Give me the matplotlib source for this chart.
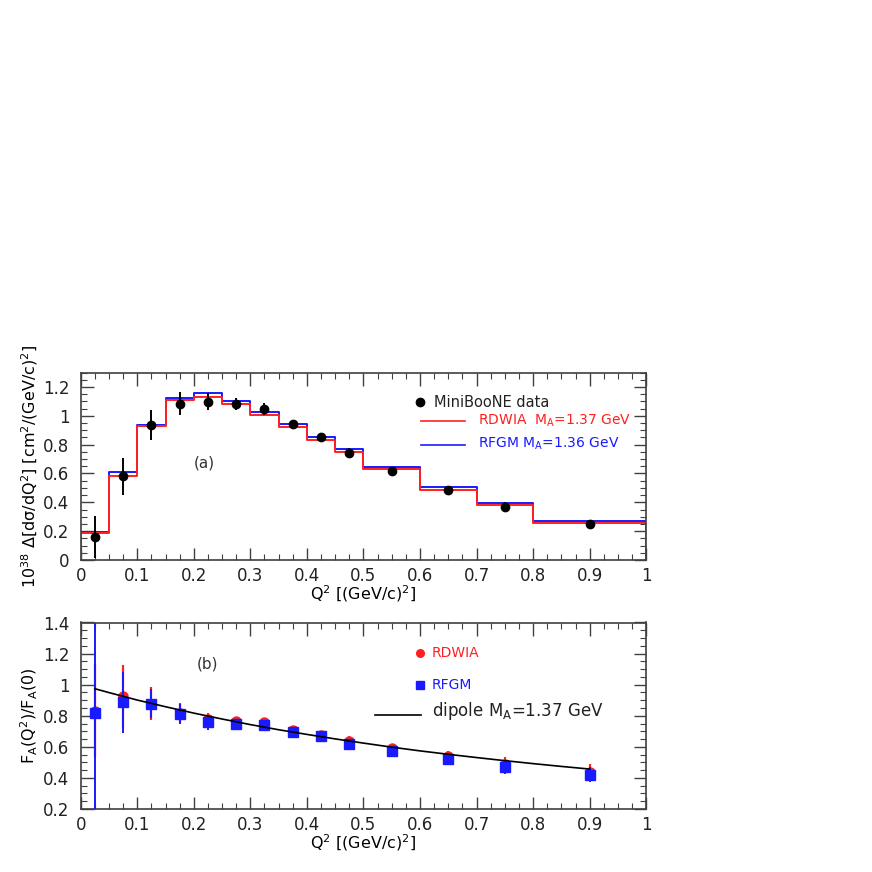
import numpy as np
import matplotlib
matplotlib.use("Agg")
import matplotlib.pyplot as plt
from matplotlib.ticker import MultipleLocator

plt.rcParams["font.family"] = "DejaVu Sans"
plt.rcParams["mathtext.default"] = "regular"

# panel (a): d sigma / dQ2 histograms
edges = [0, 0.05, 0.1, 0.15, 0.2, 0.25, 0.3, 0.35, 0.4, 0.45, 0.5, 0.6, 0.7, 0.8, 1.0]
rfgm_hist = [0.193, 0.609, 0.937, 1.123, 1.158, 1.102, 1.023, 0.942, 0.851, 0.767,
             0.647, 0.507, 0.395, 0.270]
rdwia_hist = [0.186, 0.581, 0.926, 1.107, 1.128, 1.084, 1.007, 0.919, 0.833, 0.747,
              0.630, 0.488, 0.379, 0.256]

q2 = [0.025, 0.075, 0.125, 0.175, 0.225, 0.275, 0.325, 0.375, 0.425, 0.475,
      0.55, 0.65, 0.75, 0.9]
mb_data = [0.160, 0.580, 0.937, 1.085, 1.098, 1.083, 1.047, 0.944, 0.851, 0.744,
           0.616, 0.484, 0.367, 0.248]
mb_err = [0.148, 0.128, 0.102, 0.083, 0.058, 0.040, 0.040, 0.029, 0.029, 0.031,
          0.031, 0.030, 0.037, 0.027]

# panel (b): extracted F_A(Q2)/F_A(0)
rdwia_fa = [0.832, 0.924, 0.877, 0.817, 0.779, 0.764, 0.757, 0.710, 0.674, 0.635,
            0.592, 0.539, 0.489, 0.436]
rdwia_fa_err = [0.30, 0.204, 0.107, 0.064, 0.038, 0.027, 0.028, 0.021, 0.025, 0.032,
                0.028, 0.036, 0.045, 0.055]
rfgm_fa = [0.820, 0.886, 0.877, 0.811, 0.757, 0.746, 0.742, 0.695, 0.667, 0.620,
           0.571, 0.521, 0.470, 0.421]
rfgm_fa_err = [1.0, 0.196, 0.093, 0.065, 0.046, 0.036, 0.030, 0.025, 0.022, 0.027,
               0.032, 0.040, 0.043, 0.048]

dipole_q2 = [0.025, 0.05, 0.1, 0.15, 0.2, 0.25, 0.3, 0.35, 0.4, 0.45, 0.5, 0.55,
             0.6, 0.65, 0.7, 0.75, 0.8, 0.85, 0.9]
dipole_fa = [0.974, 0.949, 0.901, 0.858, 0.817, 0.779, 0.743, 0.710, 0.680, 0.651,
             0.624, 0.598, 0.574, 0.552, 0.531, 0.511, 0.492, 0.474, 0.457]

RED = "#ff2020"
BLUE = "#1a1aff"
FRAME = "#404040"


def style_axes(ax, ymajor):
    ax.set_xlim(0, 1)
    ax.xaxis.set_major_locator(MultipleLocator(0.1))
    ax.xaxis.set_minor_locator(MultipleLocator(0.025))
    ax.yaxis.set_major_locator(MultipleLocator(ymajor))
    ax.yaxis.set_minor_locator(MultipleLocator(0.05))
    ax.tick_params(which="both", direction="in", top=True, right=True,
                   color=FRAME, labelsize=12, labelcolor="#222222")
    ax.tick_params(which="major", length=9, width=1.0)
    ax.tick_params(axis="x", which="major", pad=5)
    ax.tick_params(axis="y", which="major", pad=8)
    ax.tick_params(which="minor", length=4.5, width=0.8)
    for s in ax.spines.values():
        s.set_color(FRAME)
        s.set_linewidth(1.2)
    ax.xaxis.set_major_formatter(plt.FuncFormatter(lambda v, p: f"{v:g}"))
    ax.yaxis.set_major_formatter(plt.FuncFormatter(lambda v, p: f"{v:g}"))
    ax.set_xlabel("Q$^{2}$ [(GeV/c)$^{2}$]", fontsize=11.5, labelpad=-1)


fig = plt.figure(figsize=(8.72, 8.72), dpi=100)
ax1 = fig.add_axes([80.7 / 872, 1 - 560 / 872, 565.5 / 872, 187.5 / 872])
ax2 = fig.add_axes([80.7 / 872, 1 - 809 / 872, 565.5 / 872, 186.5 / 872])

# --- (a)
bx = np.repeat(edges, 2)
for vals, col in [(rfgm_hist, BLUE), (rdwia_hist, RED)]:
    by = np.concatenate([[0], np.repeat(vals, 2), [0]])
    ax1.plot(bx, by, color=col, lw=1.4)
ax1.errorbar(q2, mb_data, yerr=mb_err, fmt="o", color="black", ms=6,
             elinewidth=1.4, capsize=0, zorder=5)
style_axes(ax1, 0.2)
ax1.set_ylim(0, 1.3)
ax1.set_ylabel("10$^{38}$ $\\Delta$[d$\\sigma$/dQ$^{2}$] [cm$^{2}$/(GeV/c)$^{2}$]",
               fontsize=11.5, labelpad=2)
ax1.text(0.2, 0.64, "(a)", fontsize=11, color="#333333")
ax1.plot([0.6], [1.095], "o", color="black", ms=6)
ax1.text(0.625, 1.095, "MiniBooNE data", fontsize=10.5, va="center", color="#222222")
ax1.plot([0.602, 0.68], [0.962, 0.962], color=RED, lw=1.2)
ax1.text(0.703, 0.965, "RDWIA  M$_{A}$=1.37 GeV", fontsize=10, va="center", color=RED)
ax1.plot([0.602, 0.68], [0.80, 0.80], color=BLUE, lw=1.2)
ax1.text(0.703, 0.805, "RFGM M$_{A}$=1.36 GeV", fontsize=10, va="center", color=BLUE)

# --- (b)
ax2.errorbar(q2, rdwia_fa, yerr=rdwia_fa_err, fmt="o", color=RED, ms=6.5,
             elinewidth=1.6, capsize=0, zorder=3)
ax2.errorbar(q2, rfgm_fa, yerr=rfgm_fa_err, fmt="s", color=BLUE, ms=6.5,
             elinewidth=1.4, capsize=0, zorder=4)
ax2.plot(dipole_q2, dipole_fa, color="black", lw=1.2, zorder=5)
style_axes(ax2, 0.2)
ax2.set_ylim(0.2, 1.4)
ax2.set_ylabel("F$_{A}$(Q$^{2}$)/F$_{A}$(0)", fontsize=11.5, labelpad=2)
ax2.text(0.205, 1.13, "(b)", fontsize=11, color="#333333", va="center")
ax2.plot([0.6], [1.203], "o", color=RED, ms=5.5)
ax2.text(0.621, 1.203, "RDWIA", fontsize=10, va="center", color=RED)
ax2.plot([0.6], [0.999], "s", color=BLUE, ms=5.5)
ax2.text(0.621, 0.999, "RFGM", fontsize=10, va="center", color=BLUE)
ax2.plot([0.52, 0.602], [0.806, 0.806], color="black", lw=1.2)
ax2.text(0.621, 0.83, "dipole M$_{A}$=1.37 GeV", fontsize=12, va="center", color="#222222")

fig.savefig("out.png", dpi=100)
